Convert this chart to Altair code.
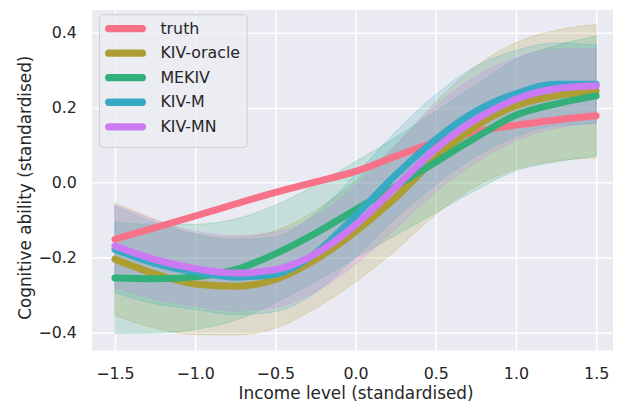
import altair as alt
import pandas as pd

# ---- data ----
xs = [-1.5, -1.25, -1.0, -0.75, -0.5, -0.25, 0.0, 0.25, 0.5, 0.75, 1.0, 1.25, 1.5]

truth = [-0.151, -0.12, -0.089, -0.057, -0.026, 0.002, 0.03, 0.07, 0.108, 0.135, 0.153, 0.167, 0.178]

oracle = [-0.204, -0.243, -0.27, -0.276, -0.258, -0.205, -0.13, -0.04, 0.065, 0.15, 0.205, 0.232, 0.244]
oracle_lo = [-0.354, -0.388, -0.405, -0.406, -0.388, -0.335, -0.265, -0.18, -0.085, -0.01, 0.037, 0.058, 0.066]
oracle_hi = [-0.054, -0.098, -0.135, -0.146, -0.128, -0.075, 0.005, 0.1, 0.215, 0.31, 0.373, 0.406, 0.422]

mekiv = [-0.254, -0.256, -0.251, -0.232, -0.19, -0.135, -0.072, -0.01, 0.055, 0.12, 0.18, 0.21, 0.231]
mekiv_lo = [-0.402, -0.401, -0.391, -0.367, -0.32, -0.263, -0.2, -0.14, -0.08, -0.02, 0.032, 0.055, 0.071]
mekiv_hi = [-0.106, -0.111, -0.111, -0.097, -0.06, -0.007, 0.056, 0.12, 0.19, 0.26, 0.328, 0.365, 0.391]

kivm = [-0.178, -0.215, -0.238, -0.252, -0.244, -0.188, -0.088, 0.02, 0.115, 0.19, 0.237, 0.262, 0.262]
kivm_lo = [-0.293, -0.323, -0.338, -0.352, -0.344, -0.293, -0.198, -0.095, -0.005, 0.07, 0.122, 0.152, 0.157]
kivm_hi = [-0.063, -0.107, -0.138, -0.152, -0.144, -0.083, 0.022, 0.135, 0.235, 0.31, 0.352, 0.372, 0.367]

kivmn = [-0.169, -0.205, -0.229, -0.241, -0.232, -0.19, -0.113, -0.012, 0.09, 0.168, 0.222, 0.25, 0.258]
kivmn_lo = [-0.279, -0.31, -0.329, -0.341, -0.332, -0.29, -0.218, -0.122, -0.025, 0.053, 0.112, 0.145, 0.158]
kivmn_hi = [-0.059, -0.1, -0.129, -0.141, -0.132, -0.09, -0.008, 0.098, 0.205, 0.283, 0.332, 0.355, 0.358]

models = ["truth", "KIV-oracle", "MEKIV", "KIV-M", "KIV-MN"]
colors = ["#f77189", "#ae9d31", "#33b07a", "#38a9c5", "#cc7af4"]

x_ticks = [-1.5, -1.0, -0.5, 0.0, 0.5, 1.0, 1.5]
y_ticks = [-0.4, -0.2, 0.0, 0.2, 0.4]

# ---- tables ----
line_rows = []
for name, vals in zip(models, [truth, oracle, mekiv, kivm, kivmn]):
    for x, v in zip(xs, vals):
        line_rows.append({"model": name, "x": x, "y": v})
lines_df = pd.DataFrame(line_rows)

band_rows = []
for name, lo, hi in [("KIV-oracle", oracle_lo, oracle_hi), ("MEKIV", mekiv_lo, mekiv_hi),
                     ("KIV-M", kivm_lo, kivm_hi), ("KIV-MN", kivmn_lo, kivmn_hi)]:
    for x, a, b in zip(xs, lo, hi):
        band_rows.append({"band": name, "x": x, "lo": a, "hi": b})
bands_df = pd.DataFrame(band_rows)

FONT = "DejaVu Sans"
TXT = "#262626"

xscale = alt.Scale(domain=[-1.642, 1.605], nice=False, zero=False)
yscale = alt.Scale(domain=[-0.4475, 0.46], nice=False, zero=False)

xaxis = alt.Axis(values=x_ticks, format=".1f", title="Income level (standardised)",
                 grid=True, gridColor="white", gridWidth=1.5, ticks=False, tickSize=0,
                 domain=False, labelFlush=False, labelFontSize=16, labelPadding=15,
                 labelColor=TXT, labelFont=FONT, titleFont=FONT, titleFontSize=17,
                 titleColor=TXT, titleFontWeight="normal", titleX=266, titleY=48,
                 titleBaseline="alphabetic")
yaxis = alt.Axis(values=y_ticks, format=".1f", title="Cognitive ability (standardised)",
                 grid=True, gridColor="white", gridWidth=1.5, ticks=False, tickSize=0,
                 domain=False, labelFlush=False, labelFontSize=16, labelPadding=16,
                 labelColor=TXT, labelFont=FONT, titleFont=FONT, titleFontSize=17,
                 titleColor=TXT, titleFontWeight="normal", titleX=-62, titleY=179,
                 titleBaseline="alphabetic")

capsule = "M-3.4,-0.04 H3.4 A0.04,0.04 0 0 1 3.4,0.04 H-3.4 A0.04,0.04 0 0 1 -3.4,-0.04 Z"

legend = alt.Legend(title=None, orient="none", legendX=7, legendY=4.3,
                    symbolType=capsule, symbolSize=100, symbolStrokeWidth=7,
                    symbolOffset=12.2, labelOffset=26.7, labelFontSize=16,
                    labelFont=FONT, labelColor=TXT, rowPadding=-4.2, padding=6,
                    fillColor="rgba(236,236,243,0.8)", strokeColor="#cccccc",
                    cornerRadius=4, symbolOpacity=1)

band_scale = alt.Scale(domain=models[1:], range=colors[1:])

bands = alt.Chart(bands_df).mark_area(
    interpolate="monotone", fillOpacity=0.2, strokeOpacity=0.25, strokeWidth=1
).encode(
    x=alt.X("x:Q", scale=xscale, axis=xaxis),
    y=alt.Y("lo:Q", scale=yscale, axis=yaxis),
    y2="hi:Q",
    fill=alt.Fill("band:N", scale=band_scale, legend=None),
    stroke=alt.Stroke("band:N", scale=band_scale, legend=None),
    detail="band:N",
)

lines = alt.Chart(lines_df).mark_line(
    interpolate="monotone", strokeWidth=7, strokeCap="round"
).encode(
    x=alt.X("x:Q", scale=xscale, axis=xaxis),
    y=alt.Y("y:Q", scale=yscale, axis=yaxis),
    color=alt.Color("model:N", scale=alt.Scale(domain=models, range=colors), legend=legend),
)

chart = alt.layer(bands, lines).properties(
    width=526, height=344,
    padding={"left": 85, "top": 0, "right": 0, "bottom": 55},
    autosize=alt.AutoSizeParams(type="none"),
    background="white",
).configure_view(fill="#EAEAF2", strokeWidth=0, stroke=None)

chart.save("out.html", embed_options={"renderer": "svg", "actions": False})
